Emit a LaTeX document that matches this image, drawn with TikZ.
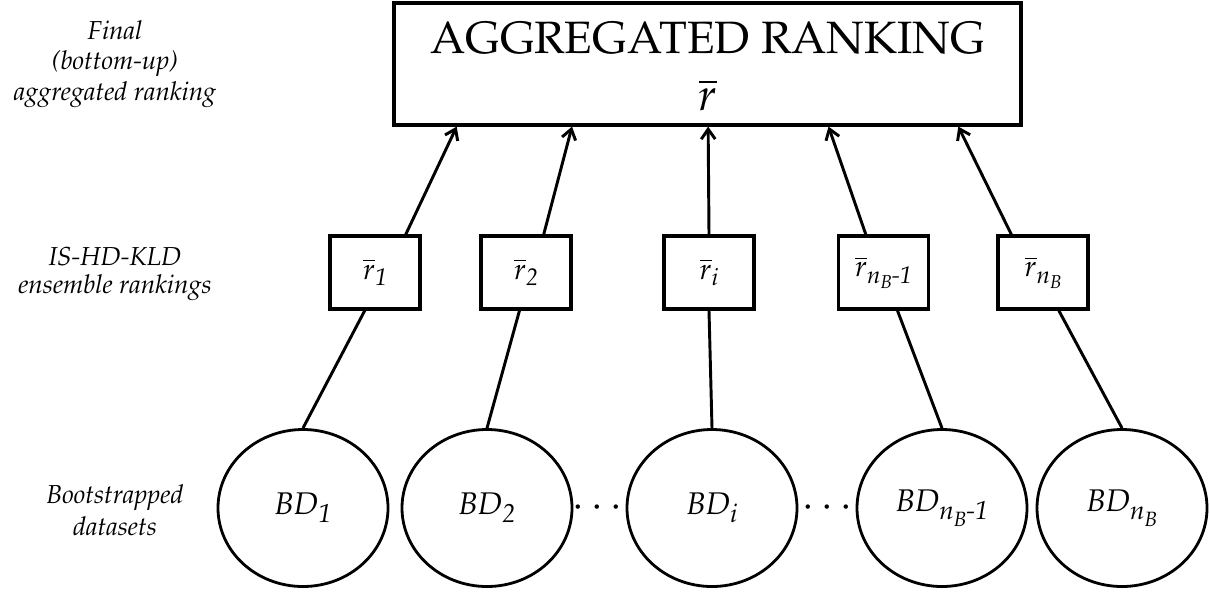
\documentclass[tikz,border=0pt]{standalone}
\usepackage[T1]{fontenc}
\usepackage{mathpazo}
\usetikzlibrary{arrows.meta,calc,shapes.geometric}
\tikzset{
  aggbox/.style={draw, line width=2.4pt, minimum width=470.25pt, minimum height=91.5pt, inner sep=0pt},
  rbox/.style={draw, line width=2.4pt, minimum width=67.5pt, minimum height=54.75pt, inner sep=0pt, font=\fontsize{22}{24}\selectfont},
  bdell/.style={draw, ellipse, line width=2.1pt, minimum width=127.5pt, minimum height=117.75pt, inner sep=0pt, font=\fontsize{23.5}{26}\selectfont\itshape},
  conn/.style={line width=2.2pt},
  arr/.style={line width=2.2pt, -{Straight Barb[length=7.5pt,width=10.5pt,line width=2.2pt]}},
  lab/.style={align=center, font=\fontsize{19.5}{23}\selectfont\itshape},
  dots/.style={font=\fontsize{30}{30}\selectfont, inner sep=0pt}
}
\newcommand{\sbA}[1]{\raisebox{-5pt}{\fontsize{18}{18}\selectfont\itshape #1}}
\newcommand{\sbB}[1]{\raisebox{-4pt}{\fontsize{14}{14}\selectfont\itshape #1}}
\newcommand{\sbC}[1]{\raisebox{-6pt}{\fontsize{19.5}{19.5}\selectfont\itshape #1}}
\newcommand{\sbD}[1]{\raisebox{-5pt}{\fontsize{15.5}{15.5}\selectfont\itshape #1}}
\begin{document}
\begin{tikzpicture}[x=0.75pt,y=-0.75pt]
\useasboundingbox (0,0) rectangle (1210,594);
% top box
\node[aggbox] (agg) at (707.5,64) {};
\node[anchor=base, inner sep=0pt, font=\fontsize{34}{40}\selectfont] (aggt) at (707.5,53) {AGGREGATED RANKING};
\node[anchor=base, inner sep=0pt, font=\fontsize{34}{40}\selectfont] (aggr) at (708,110) {$\overline{r}$};
% small boxes
\node[rbox] (b1) at (375,272.5) {$\overline{r}$\sbA{1}};
\node[rbox] (b2) at (526,272.5) {$\overline{r}$\sbA{2}};
\node[rbox] (bi) at (709,272.5) {$\overline{r}$\sbA{i}};
\node[rbox] (b4) at (883.5,272.5) {$\overline{r}$\sbA{n\sbB{B}-1}};
\node[rbox] (b5) at (1043,272.5) {$\overline{r}$\sbA{n\sbB{B}}};
% ellipses
\node[bdell] (e1) at (303,508) {BD\sbC{1}};
\node[bdell] (e2) at (487,508) {BD\sbC{2}};
\node[bdell] (ei) at (712,508) {BD\sbC{i}};
\node[bdell] (e4) at (942,508) {BD\sbC{n\sbD{B}-1}};
\node[bdell] (e5) at (1122,508) {BD\sbC{n\sbD{B}}};
% dots
\node[dots] (d1) at (597,508) {$\cdots$};
\node[dots] (d2) at (827,508) {$\cdots$};
% left labels
\node[lab] (l1) at (115,64) {Final\\(bottom-up)\\aggregated ranking};
\node[lab, font=\fontsize{19.5}{21}\selectfont\itshape] (l2) at (115,274) {IS-HD-KLD\\ensemble rankings};
\node[lab, font=\fontsize{19.5}{24}\selectfont\itshape] (l3) at (115,510) {Bootstrapped\\datasets};
% connectors up
\draw[arr] ($(b1.north west)!0.83!(b1.north east)$) -- ($(agg.south west)!0.102!(agg.south east)$);
\draw[arr] ($(b2.north west)!0.69!(b2.north east)$) -- ($(agg.south west)!0.285!(agg.south east)$);
\draw[arr] (bi.north) -- ($(agg.south west)!0.501!(agg.south east)$);
\draw[arr] ($(b4.north west)!0.31!(b4.north east)$) -- ($(agg.south west)!0.692!(agg.south east)$);
\draw[arr] ($(b5.north west)!0.16!(b5.north east)$) -- ($(agg.south west)!0.898!(agg.south east)$);
% connectors down
\draw[conn] ($(b1.south west)!0.39!(b1.south east)$) -- (e1.north);
\draw[conn] ($(b2.south west)!0.43!(b2.south east)$) -- (e2.north);
\draw[conn] (bi.south) -- (ei.north);
\draw[conn] ($(b4.south west)!0.65!(b4.south east)$) -- (e4.north);
\draw[conn] ($(b5.south west)!0.67!(b5.south east)$) -- (e5.north);
\end{tikzpicture}
\end{document}
